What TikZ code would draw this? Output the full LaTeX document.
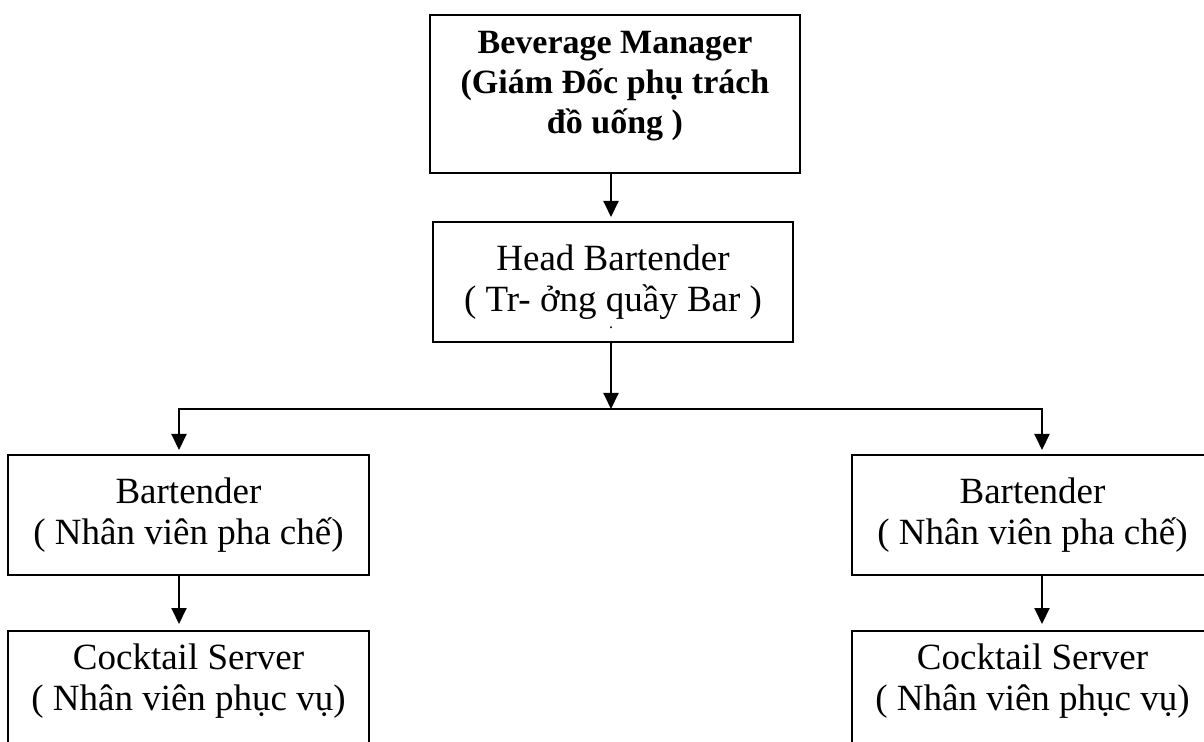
\documentclass[tikz,border=0pt]{standalone}
\usepackage{fontspec}
\setmainfont{Liberation Serif}
\usetikzlibrary{positioning,arrows.meta}
\tikzset{
  org/.style={>={Triangle[width=7.5pt,length=8pt]},
    line width=1pt,
    shorten >=2pt},
  post/.style={draw,line width=1pt,align=center,inner sep=0pt,
    minimum width=180.5pt,minimum height=60pt,
    font=\fontsize{18.5}{20.5}\selectfont},
  chief/.style={post,minimum width=185pt,minimum height=79pt,
    font=\fontsize{17}{20}\selectfont\bfseries},
  tip/.style={inner sep=0pt,font=\fontsize{8}{8}\selectfont}}
\begin{document}
\begin{tikzpicture}[x=0.5pt,y=-0.5pt,org]
  \useasboundingbox (0,0) rectangle (1204,742);
  \clip (0,0) rectangle (1204,742);
  \node[chief,text depth=12pt] (bev) at (615,94) {Beverage Manager\\(Giám Đốc phụ trách\\đồ uống )};
  \node[post,minimum width=180pt,below=23.5pt of bev,xshift=-1pt] (head) {Head Bartender\\( Tr- ởng quầy Bar )};
  \node[tip,anchor=base] (dot) at (611,329) {.};
  \node[post] (bt1) at (188.5,515) {Bartender\\( Nhân viên pha chế)};
  \node[post] (bt2) at (1032.5,515) {Bartender\\( Nhân viên pha chế)};
  \node[post,text depth=14pt,below=27pt of bt1] (cs1) {Cocktail Server\\( Nhân viên phục vụ)};
  \node[post,text depth=14pt,below=27pt of bt2] (cs2) {Cocktail Server\\( Nhân viên phục vụ)};
  \coordinate (split) at (611,409);
  \coordinate (lft) at (179,409);
  \coordinate (rgt) at (1042,409);
  \draw[->] (bev.south -| split) -- (head.north -| split);
  \draw[->,shorten >=0pt] (head.south -| split) -- (split);
  \draw[->] (split) -- (lft) -- (lft |- bt1.north);
  \draw[->] (split) -- (rgt) -- (rgt |- bt2.north);
  \draw[->,shorten >=3pt] (bt1.south -| lft) -- (cs1.north -| lft);
  \draw[->,shorten >=3pt] (bt2.south -| rgt) -- (cs2.north -| rgt);
\end{tikzpicture}
\end{document}
